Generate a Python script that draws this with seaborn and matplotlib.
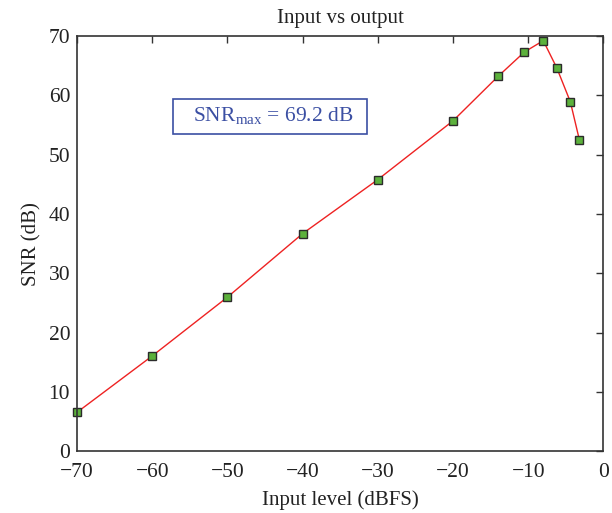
import matplotlib
matplotlib.use("Agg")
import matplotlib.pyplot as plt
from matplotlib.patches import Rectangle
import seaborn as sns
import pandas as pd

# Measured SNR versus input level
input_level = [-70, -60, -50, -40, -30, -20, -14, -10.5, -8, -6.2, -4.4, -3.2]
snr_db = [6.6, 16.1, 26.0, 36.7, 45.8, 55.7, 63.2, 67.3, 69.2, 64.6, 58.9, 52.5]
x_ticks = [-70, -60, -50, -40, -30, -20, -10, 0]
y_ticks = [0, 10, 20, 30, 40, 50, 60, 70]
snr_max = max(snr_db)

sns.set_style("white")
plt.rcParams["font.family"] = ["Liberation Serif", "DejaVu Serif"]
plt.rcParams["mathtext.fontset"] = "custom"
plt.rcParams["mathtext.rm"] = "Liberation Serif"
plt.rcParams["axes.unicode_minus"] = True

df = pd.DataFrame({"level": input_level, "snr": snr_db})

fig = plt.figure(figsize=(6.12, 5.13), dpi=100)
ax = fig.add_axes([0.126, 0.12, 0.860, 0.810])

sns.lineplot(data=df, x="level", y="snr", ax=ax, color="#ee2222", linewidth=1.0,
             marker="s", markersize=6.2, markerfacecolor="#5cb13c",
             markeredgecolor="#2b2b2b", markeredgewidth=1.0, clip_on=False)

ax.set_xlim(-70, 0)
ax.set_ylim(0, 70)
ax.set_xticks(x_ticks)
ax.set_yticks(y_ticks)
ax.set_xticklabels([f"{t}".replace("-", "\u2212") for t in x_ticks])
ax.tick_params(direction="in", top=True, right=True, length=5, width=1,
               color="#333333", labelsize=15.5, pad=5, labelcolor="#222222")
ax.tick_params(axis="x", pad=8)
for s in ax.spines.values():
    s.set_color("#333333")
    s.set_linewidth(1.2)

ax.set_xlabel("Input level (dBFS)", fontsize=15, color="#222222", labelpad=6)
ax.set_ylabel("SNR (dB)", fontsize=15, color="#222222", labelpad=5)
ax.set_title("Input vs output", fontsize=15, color="#222222", pad=9)

# Annotation box with the peak SNR
ax.add_patch(Rectangle((-57.3, 53.5), 25.9, 5.9, facecolor="white",
                       edgecolor="#3b4fa3", linewidth=1.2, zorder=3))
ax.text(-43.9, 56.5, r"SNR$_{\rm max}$ = " + f"{snr_max:.1f} dB", fontsize=15.5,
        color="#3b4fa3", ha="center", va="center", zorder=4)

fig.savefig("out.png", dpi=100)
